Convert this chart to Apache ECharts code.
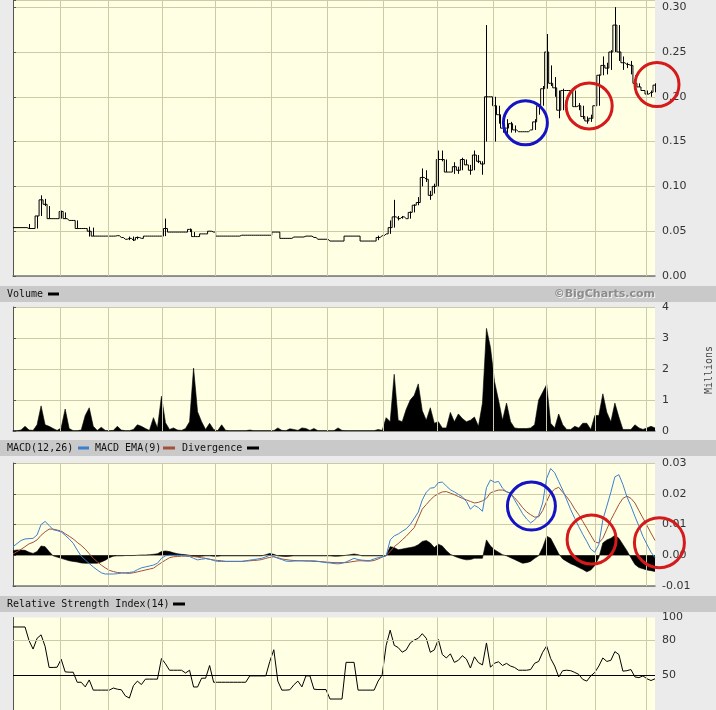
<!DOCTYPE html>
<html><head><meta charset="utf-8">
<script src="https://cdn.jsdelivr.net/npm/echarts@6/dist/echarts.min.js"></script>
<style>html,body{margin:0;padding:0;background:#EBEBEB}#c{width:716px;height:710px}</style>
</head><body><div id="c"></div>
<script>
// ---- data (one value per trading-day slot) ----
const closes = [
0.054,0.054,0.054,0.054,0.053,0.053,0.067,0.085,0.080,0.064,
0.064,0.064,0.072,0.064,0.062,0.062,0.053,0.053,0.053,0.050,
0.0445,0.0445,0.0445,0.0445,0.0445,0.0445,0.045,0.043,0.041,0.042,
0.040,0.043,0.042,0.0445,0.0445,0.0445,0.0445,0.0445,0.053,0.049,
0.049,0.049,0.049,0.049,0.052,0.044,0.044,0.047,0.047,0.050,
0.049,0.0445,0.0445,0.0445,0.0445,0.0445,0.0445,0.0455,0.0455,0.0455,
0.0455,0.0455,0.0455,0.0455,0.0455,0.049,0.049,0.042,0.042,0.042,
0.0435,0.0435,0.0435,0.0445,0.0445,0.043,0.041,0.041,0.041,0.039,
0.039,0.039,0.039,0.0445,0.0445,0.0445,0.0445,0.039,0.039,0.039,
0.039,0.043,0.045,0.047,0.054,0.066,0.064,0.066,0.064,0.071,
0.079,0.082,0.110,0.108,0.090,0.100,0.130,0.130,0.116,0.116,
0.122,0.118,0.130,0.124,0.118,0.135,0.128,0.125,0.200,0.200,
0.190,0.180,0.165,0.165,0.170,0.163,0.161,0.161,0.161,0.163,
0.172,0.190,0.209,0.250,0.215,0.210,0.185,0.207,0.207,0.207,
0.189,0.190,0.178,0.173,0.176,0.190,0.224,0.235,0.232,0.250,
0.280,0.250,0.238,0.236,0.235,0.215,0.211,0.207,0.203,0.205,0.213];
const highs = [
0.054,0.054,0.054,0.054,0.058,0.053,0.067,0.090,0.086,0.078,
0.064,0.064,0.073,0.071,0.062,0.062,0.062,0.053,0.053,0.055,
0.054,0.0445,0.0445,0.0445,0.0445,0.0445,0.045,0.043,0.041,0.044,
0.044,0.044,0.042,0.0445,0.0445,0.0445,0.0445,0.0445,0.064,0.049,
0.049,0.049,0.049,0.049,0.053,0.049,0.044,0.047,0.047,0.050,
0.049,0.0445,0.0445,0.0445,0.0445,0.0445,0.0445,0.0455,0.0455,0.0455,
0.0455,0.0455,0.0455,0.0455,0.0455,0.049,0.049,0.042,0.042,0.042,
0.0435,0.0435,0.0435,0.0445,0.0445,0.043,0.041,0.041,0.041,0.039,
0.039,0.039,0.039,0.0445,0.0445,0.0445,0.0445,0.039,0.039,0.039,
0.039,0.045,0.045,0.047,0.062,0.085,0.067,0.067,0.064,0.072,
0.080,0.088,0.120,0.118,0.095,0.103,0.140,0.140,0.130,0.116,
0.127,0.122,0.132,0.130,0.124,0.140,0.135,0.128,0.280,0.200,
0.200,0.190,0.175,0.175,0.172,0.168,0.161,0.161,0.161,0.163,
0.175,0.192,0.212,0.270,0.235,0.222,0.207,0.209,0.207,0.207,
0.207,0.193,0.190,0.178,0.180,0.210,0.225,0.245,0.238,0.252,
0.300,0.280,0.245,0.238,0.240,0.224,0.215,0.207,0.207,0.207,0.215];
const lows = [
0.054,0.054,0.054,0.054,0.053,0.053,0.053,0.067,0.078,0.064,
0.064,0.064,0.064,0.064,0.062,0.062,0.053,0.053,0.053,0.044,
0.0445,0.0445,0.0445,0.0445,0.0445,0.0445,0.045,0.043,0.041,0.040,
0.039,0.041,0.042,0.0445,0.0445,0.0445,0.0445,0.0445,0.0445,0.049,
0.049,0.049,0.049,0.049,0.049,0.044,0.044,0.047,0.047,0.050,
0.049,0.0445,0.0445,0.0445,0.0445,0.0445,0.0445,0.0455,0.0455,0.0455,
0.0455,0.0455,0.0455,0.0455,0.0455,0.049,0.049,0.042,0.042,0.042,
0.0435,0.0435,0.0435,0.0445,0.0445,0.043,0.041,0.041,0.041,0.039,
0.039,0.039,0.039,0.0445,0.0445,0.0445,0.0445,0.039,0.039,0.039,
0.039,0.040,0.045,0.047,0.047,0.054,0.062,0.064,0.064,0.064,
0.071,0.079,0.100,0.105,0.085,0.092,0.100,0.128,0.116,0.116,
0.114,0.114,0.118,0.124,0.113,0.118,0.126,0.113,0.150,0.200,
0.150,0.170,0.160,0.155,0.160,0.160,0.161,0.161,0.161,0.163,
0.163,0.180,0.190,0.209,0.212,0.200,0.176,0.185,0.207,0.207,
0.189,0.185,0.175,0.170,0.172,0.176,0.190,0.224,0.225,0.230,
0.250,0.240,0.230,0.232,0.225,0.215,0.211,0.207,0.203,0.200,0.205];
const volumes = [
0.01,0.01,0.03,0.15,0.03,0.02,0.2,0.81,0.2,0.15,
0.08,0.02,0.1,0.71,0.08,0.01,0.01,0.03,0.5,0.75,
0.15,0.02,0.12,0.02,0.01,0.02,0.15,0.03,0.01,0.01,
0.05,0.2,0.15,0.08,0.02,0.43,0.1,1.12,0.27,0.05,
0.1,0.03,0.02,0.08,0.3,2.03,0.62,0.3,0.05,0.25,
0.05,0.01,0.2,0.02,0.01,0.01,0.01,0.01,0.01,0.03,
0.01,0.01,0.01,0.01,0.01,0.01,0.1,0.02,0.01,0.07,
0.05,0.02,0.1,0.08,0.02,0.08,0.01,0.01,0.01,0.01,
0.01,0.1,0.02,0.01,0.01,0.01,0.01,0.01,0.01,0.01,
0.01,0.05,0.02,0.43,0.3,1.83,0.35,0.3,0.7,1.0,
1.15,1.52,0.65,0.35,0.75,0.25,0.3,0.1,0.1,0.6,
0.3,0.55,0.4,0.3,0.35,0.45,0.15,0.9,3.31,2.69,
1.6,1.0,0.35,0.9,0.3,0.1,0.08,0.08,0.08,0.1,
0.2,1.0,1.25,1.5,0.25,0.1,0.55,0.2,0.05,0.05,
0.15,0.1,0.25,0.25,0.05,0.5,0.5,1.2,0.6,0.3,
0.9,0.45,0.05,0.05,0.05,0.2,0.1,0.05,0.1,0.15,0.1];
const macd = [
.0028,.0038,.0048,.0053,.0054,.0055,.0066,.0100,.0110,.0097,
.0083,.0080,.0076,.0065,.0053,.0039,.0017,-.0003,-.0015,-.0027,
-.0038,-.0048,-.0057,-.0061,-.0061,-.0061,-.0060,-.0058,-.0057,-.0056,
-.0054,-.0047,-.0041,-.0038,-.0035,-.0032,-.0026,-.0010,-.0002,0,
0,0,0,-.0002,-.0004,-.0010,-.0015,-.0013,-.0011,-.0013,
-.0017,-.0020,-.0020,-.0020,-.0020,-.0020,-.0020,-.0020,-.0018,-.0016,
-.0014,-.0012,-.0010,-.0005,0,-.0004,-.0010,-.0014,-.0019,-.0020,
-.0019,-.0018,-.0018,-.0018,-.0018,-.0018,-.0020,-.0022,-.0024,-.0025,
-.0027,-.0028,-.0026,-.0022,-.0016,-.0010,-.0014,-.0016,-.0017,-.0017,
-.0012,-.0008,-.0005,-.0002,.0050,.0063,.0069,.0078,.0086,.0100,
.0120,.0140,.0180,.0205,.0218,.0220,.0236,.0238,.0225,.0213,
.0206,.0198,.0190,.0175,.0150,.0162,.0155,.0143,.0220,.0245,
.0237,.0240,.0218,.0206,.0203,.0180,.0158,.0135,.0118,.0105,
.0115,.0130,.0170,.0250,.0282,.0268,.0240,.0212,.0180,.0148,
.0120,.0093,.0068,.0045,.0020,.0010,.0035,.0115,.0160,.0205,
.0255,.0262,.0230,.0190,.0160,.0126,.0095,.0061,.0035,.0010,-.0008];
const signal = [
.0004,.0012,.0019,.0028,.0037,.0042,.0050,.0065,.0076,.0085,
.0085,.0082,.0079,.0070,.0062,.0053,.0042,.0032,.0020,.0005,
-.0010,-.0021,-.0032,-.0041,-.0049,-.0053,-.0056,-.0057,-.0058,-.0059,
-.0057,-.0054,-.0051,-.0048,-.0045,-.0042,-.0033,-.0024,-.0016,-.0008,
-.0005,-.0004,-.0003,-.0003,-.0003,-.0004,-.0006,-.0008,-.0010,-.0013,
-.0015,-.0017,-.0018,-.0020,-.0020,-.0020,-.0020,-.0020,-.0019,-.0018,
-.0017,-.0016,-.0014,-.0010,-.0007,-.0005,-.0008,-.0012,-.0014,-.0016,
-.0017,-.0018,-.0018,-.0019,-.0019,-.0020,-.0020,-.0021,-.0022,-.0023,
-.0024,-.0024,-.0024,-.0024,-.0022,-.0020,-.0018,-.0018,-.0019,-.0019,
-.0017,-.0012,-.0006,-.0001,.0012,.0028,.0038,.0050,.0062,.0076,
.0090,.0120,.0150,.0165,.0180,.0192,.0200,.0206,.0207,.0202,
.0197,.0191,.0185,.0180,.0175,.0170,.0172,.0177,.0185,.0203,
.0208,.0212,.0212,.0207,.0200,.0187,.0172,.0155,.0141,.0132,
.0124,.0125,.0145,.0175,.0203,.0215,.0221,.0205,.0190,.0172,
.0150,.0132,.0110,.0088,.0065,.0043,.0040,.0055,.0085,.0115,
.0140,.0165,.0185,.0192,.0185,.0170,.0145,.0121,.0097,.0072,.0048];
const divergence = [
.0015,.0017,.0017,.0016,.0010,.0006,.0012,.0030,.0028,.0012,
-.0002,-.0006,-.0010,-.0014,-.0018,-.0020,-.0022,-.0025,-.0026,-.0026,
-.0026,-.0026,-.0022,-.0016,-.0008,-.0003,-.0002,-.0002,-.0001,-.0001,
-.0001,0,.0001,.0001,.0002,.0003,.0005,.0012,.0014,.0012,
.0008,.0005,.0003,.0002,0,-.0003,-.0004,-.0003,-.0002,-.0002,
-.0003,-.0003,-.0002,-.0002,-.0002,-.0002,-.0002,-.0002,-.0002,-.0002,
-.0002,-.0002,-.0002,.0002,.0006,.0003,-.0002,-.0003,-.0004,-.0003,
-.0002,-.0002,-.0002,-.0002,-.0002,-.0002,-.0002,-.0002,-.0002,-.0002,
-.0003,-.0003,-.0002,0,.0002,.0004,.0002,-.0002,-.0002,-.0002,
-.0002,-.0002,-.0002,-.0001,.0028,.0025,.0018,.0020,.0023,.0025,
.0028,.0034,.0045,.0048,.0040,.0025,.0036,.0030,.0015,.0003,
-.0003,-.0008,-.0012,-.0015,-.0014,-.0010,-.0010,-.0010,.0050,.0030,
.0018,.0010,.0002,-.0002,-.0008,-.0014,-.0020,-.0026,-.0024,-.0020,
-.0010,-.0002,.0025,.0062,.0055,.0030,.0005,-.0012,-.0020,-.0028,
-.0033,-.0040,-.0046,-.0054,-.0048,-.0033,-.0008,.0040,.0050,.0055,
.0065,.0055,.0035,.0015,-.0008,-.0030,-.0040,-.0044,-.0048,-.0050,-.0053];
const rsi = [
91.8,91.8,91.8,91.8,80,72.7,82,85,75,56.8,
56.8,57,64,53,52.7,52.7,44,44,40,46,
37.2,37.2,37.2,37.2,37.2,39,38,37.5,32.2,30.3,
41,45,42,46.7,46.7,46.7,46.7,64.5,60,54.4,
54.4,54.4,54.4,52,54.4,39.9,39.9,47.5,47.5,58.5,
44,44,44,44,44,44,44,44,44,49.5,
49.5,49.5,49.5,49.5,62,72.1,45,37.2,37.2,37.5,
41.8,45,40,49.5,49.5,38,37.7,37.7,37.7,29.5,
29.5,29.5,29.5,61.2,61.2,61.2,37.2,37.2,37.2,37.2,
37.2,45,50.3,76,89,76,74,70,72,78,
80.5,82,86,82,69.9,72,81,68,65,68.6,
61.2,63,67,64,56.3,66,61,59,78,57,
60.5,61.7,58.5,60.3,58,56.8,54.4,54.4,54.4,55,
60.4,62,69.9,75.4,64.5,58,48.6,54,54.4,54,
52.5,50.8,46.5,45,49.5,52.5,58,65,62,63,
70.5,68,53.6,54,55,48.6,48,49.5,47,45.5,47];
// month boundaries (in day-slot units) for vertical grid lines
const monthStarts = [11.79,23.75,37.21,50.52,64.37,78.33,92.29,105.84,119.70,133.01,145.12,157.93];
const priceTicks = [0,0.05,0.10,0.15,0.20,0.25,0.30];
const rsiLabels = [100,80,50];
// annotation circles drawn on the chart (panel, [slot, value])
const annotations = [
  {panel:0, at:[127.7,0.1710], r:22, color:'#1414C4'},
  {panel:0, at:[143.6,0.1898], r:23, color:'#D41A1A'},
  {panel:0, at:[160.5,0.2136], r:22, color:'#D41A1A'},
  {panel:2, at:[129.2,0.0160], r:24, color:'#1414C4'},
  {panel:2, at:[144.2,0.0051], r:24.5, color:'#D41A1A'},
  {panel:2, at:[161.1,0.0041], r:25, color:'#D41A1A'}
];

// ---- chart ----
const chart = echarts.init(document.getElementById('c'));
const GRID = '#CCCAA7';
const N = closes.length;
const pts = a => a.map((v, i) => [i, v]);
const near = (v, list) => list.some(t => Math.abs(t - v) < 1e-6);
const lab = {color:'#333', fontFamily:'DejaVu Sans', fontSize:11, margin:7};
const monthLines = monthStarts.map(v => ({xAxis: v}));
const mlBase = {silent:true, symbol:'none', label:{show:false}, emphasis:{disabled:true}, animation:false};

const grids = [
  {left:13, top:0, width:642, height:276},
  {left:13, top:307, width:642, height:124},
  {left:13, top:463, width:642, height:123},
  {left:13, top:617.5, width:642, height:98.5}
].map(g => Object.assign(g, {show:true, backgroundColor:'#FFFFE4', borderWidth:0}));

const xAxes = [0,1,2,3].map(k => ({
  type:'value', gridIndex:k, min:0, max:N-1,
  axisLabel:{show:false}, axisTick:{show:false}, splitLine:{show:false},
  axisLine:{show:k<3, onZero:false, lineStyle:{color:'#777', width:1.5}}
}));
const yBase = {type:'value', position:'right',
  axisLine:{show:true, lineStyle:{color:'#555'}},
  axisTick:{show:true, length:3, lineStyle:{color:'#555'}},
  splitLine:{show:true, lineStyle:{color:GRID, width:1}}};
const yAxes = [
  Object.assign({}, yBase, {gridIndex:0, min:0, max:0.308, interval:0.05,
    axisLabel:Object.assign({}, lab, {formatter: v => near(v, priceTicks) ? v.toFixed(2) : ''})}),
  Object.assign({}, yBase, {gridIndex:1, min:0, max:4, interval:1,
    axisLabel:Object.assign({}, lab, {formatter: v => String(Math.round(v))})}),
  Object.assign({}, yBase, {gridIndex:2, min:-0.01, max:0.03, interval:0.01,
    axisLabel:Object.assign({}, lab, {formatter: v => Math.abs(v) < 1e-9 ? '0.00' : v.toFixed(2)})}),
  Object.assign({}, yBase, {gridIndex:3, min:20, max:100, interval:10,
    axisTick:{show:false}, splitLine:{show:false},
    axisLabel:Object.assign({}, lab, {formatter: v => near(v, rsiLabels) ? String(v) : ''})})
];

const hidden = (k, arr, extra) => ({
  type:'line', xAxisIndex:k, yAxisIndex:k, data:pts(arr), z:1, silent:true,
  showSymbol:false, lineStyle:{opacity:0}, animation:false,
  markLine:Object.assign({}, mlBase, {data:monthLines.concat(extra || []), lineStyle:{color:GRID, type:'solid', width:1}})
});

const series = [
  hidden(0, closes),
  {type:'line', xAxisIndex:0, yAxisIndex:0, data:pts(closes), step:'middle', showSymbol:false,
   lineStyle:{color:'#000', width:1}, z:3},
  {type:'custom', xAxisIndex:0, yAxisIndex:0, z:3,
   data: closes.map((c, i) => [i, lows[i], highs[i]]),
   encode:{x:0, y:[1,2]},
   renderItem:(p, api) => {
     const lo = api.coord([api.value(0), api.value(1)]);
     const hi = api.coord([api.value(0), api.value(2)]);
     const x = Math.round(lo[0]) + 0.5;
     return {type:'line', shape:{x1:x, y1:lo[1], x2:x, y2:hi[1]}, style:{stroke:'#000', lineWidth:1}};
   }},
  hidden(1, volumes),
  {type:'line', xAxisIndex:1, yAxisIndex:1, data:pts(volumes), showSymbol:false, z:3,
   lineStyle:{color:'#000', width:0.6}, areaStyle:{color:'#000', opacity:1}},
  hidden(2, macd),
  {type:'line', xAxisIndex:2, yAxisIndex:2, data:pts(divergence), showSymbol:false, z:3,
   lineStyle:{color:'#000', width:0.6}, areaStyle:{color:'#000', opacity:1}},
  {type:'line', xAxisIndex:2, yAxisIndex:2, data:pts(signal), showSymbol:false, z:4,
   lineStyle:{color:'#A2503C', width:1}},
  {type:'line', xAxisIndex:2, yAxisIndex:2, data:pts(macd), showSymbol:false, z:5,
   lineStyle:{color:'#3D7FCF', width:1}},
  hidden(3, rsi, [{yAxis:80}]),
  {type:'line', xAxisIndex:3, yAxisIndex:3, data:pts(rsi), showSymbol:false, z:4,
   lineStyle:{color:'#000', width:1},
   markLine:Object.assign({}, mlBase, {data:[{yAxis:50}], lineStyle:{color:'#000', type:'solid', width:1}})}
];

chart.setOption({
  animation:false, backgroundColor:'#EBEBEB',
  grid:grids, xAxis:xAxes, yAxis:yAxes, series:series
});

// ---- decorations: header bands, legends, annotation circles ----
const mono = '10px "DejaVu Sans Mono"';
const txt = (x, y, s, extra) => ({type:'text', x:x, y:y, z:50,
  style:Object.assign({text:s, font:mono, fill:'#111', verticalAlign:'middle'}, extra || {})});
const rect = (x, y, w, h, c) => ({type:'rect', z:49, shape:{x:x, y:y, width:w, height:h}, style:{fill:c}});
const g = [
  rect(0, 286, 716, 16, '#C9C9C9'),
  rect(0, 440, 716, 16, '#C9C9C9'),
  rect(0, 596, 716, 16, '#C9C9C9'),
  txt(7, 294, 'Volume'), rect(48, 292.5, 11, 3, '#000'),
  txt(656, 295, '\u00A9BigCharts.com', {font:'bold 11px "DejaVu Sans"', fill:'#F2F2F2', align:'right'}),
  txt(655, 294, '\u00A9BigCharts.com', {font:'bold 11px "DejaVu Sans"', fill:'#8C8C8C', align:'right'}),
  txt(7, 448, 'MACD(12,26)'), rect(78, 446.5, 11, 3, '#3D7FCF'),
  txt(95, 448, 'MACD EMA(9)'), rect(163, 446.5, 12, 3, '#A2503C'),
  txt(182, 448, 'Divergence'), rect(247, 446.5, 12, 3, '#000'),
  txt(7, 604, 'Relative Strength Index(14)'), rect(173, 602.5, 12, 3, '#000'),
  {type:'text', x:709, y:370, rotation:Math.PI/2, z:50,
   style:{text:'Millions', font:mono, fill:'#444', align:'center', verticalAlign:'middle'}}
];
annotations.forEach(a => {
  const p = chart.convertToPixel({xAxisIndex:a.panel, yAxisIndex:a.panel}, a.at);
  g.push({type:'circle', z:60, shape:{cx:p[0], cy:p[1], r:a.r},
    style:{fill:'none', stroke:a.color, lineWidth:3}});
});
chart.setOption({graphic:{elements:g}});
</script></body></html>
